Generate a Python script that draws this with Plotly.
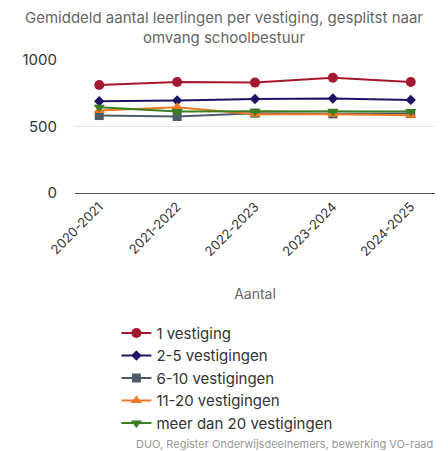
import plotly.graph_objects as go

jaren = ['2020-2021', '2021-2022', '2022-2023', '2023-2024', '2024-2025']

een_vestiging = [812, 835, 830, 867, 835]
twee_vijf = [690, 695, 707, 710, 700]
zes_tien = [582, 575, 600, 595, 597]
elf_twintig = [620, 645, 592, 592, 585]
meer_twintig = [645, 612, 615, 615, 613]

series = [
    ('1 vestiging', een_vestiging, '#a5172f', 'circle', 10),
    ('2-5 vestigingen', twee_vijf, '#1b1464', 'diamond', 8),
    ('6-10 vestigingen', zes_tien, '#4f5b66', 'square', 9),
    ('11-20 vestigingen', elf_twintig, '#ec7a23', 'triangle-up', 10),
    ('meer dan 20 vestigingen', meer_twintig, '#3b7d23', 'triangle-down', 10),
]

fig = go.Figure()
for naam, vals, kleur, sym, size in series:
    fig.add_trace(go.Scatter(
        x=jaren, y=vals, name=naam, mode='lines+markers',
        line=dict(color=kleur, width=2),
        marker=dict(symbol=sym, size=size, color=kleur),
    ))

fig.update_layout(
    width=448, height=451,
    margin=dict(l=75, r=13, t=60, b=258, autoexpand=False),
    plot_bgcolor='white', paper_bgcolor='white',
    font=dict(family='Inter, Roboto, sans-serif', color='#333333'),
    title=dict(text='Gemiddeld aantal leerlingen per vestiging, gesplitst naar<br>omvang schoolbestuur',
               x=0.5, xanchor='center', yref='container', y=0.948, yanchor='middle',
               font=dict(size=15, color='#666666')),
    legend=dict(orientation='v', x=0.115, xanchor='left', y=-0.93, yanchor='top',
                font=dict(size=15, color='#333333'), tracegroupgap=0, itemwidth=30),
    showlegend=True,
)
fig.update_xaxes(
    type='category', tickangle=-45, tickfont=dict(size=13, color='#333333'),
    showline=True, linecolor='#555555', linewidth=1, showgrid=False, automargin=False,
    title=dict(text='Aantal', font=dict(size=14, color='#666666'), standoff=30),
    ticks='',
)
fig.update_yaxes(
    range=[0, 1000], tickvals=[0, 500, 1000], tickfont=dict(size=15, color='#333333'),
    showgrid=True, gridcolor='#e6e6e6', zeroline=False, ticks='', ticklabelstandoff=17,
    automargin=False,
)
fig.add_annotation(
    text='DUO, Register Onderwijsdeelnemers, bewerking VO-raad',
    xref='paper', yref='paper', x=1.0, y=-1.885, xanchor='right', yanchor='middle',
    showarrow=False, font=dict(size=11, color='#999999'),
)

# standaard body-marge van de browser weghalen
fig.write_html("out.html", config={'displayModeBar': False},
               post_script="document.body.style.margin='0';")
